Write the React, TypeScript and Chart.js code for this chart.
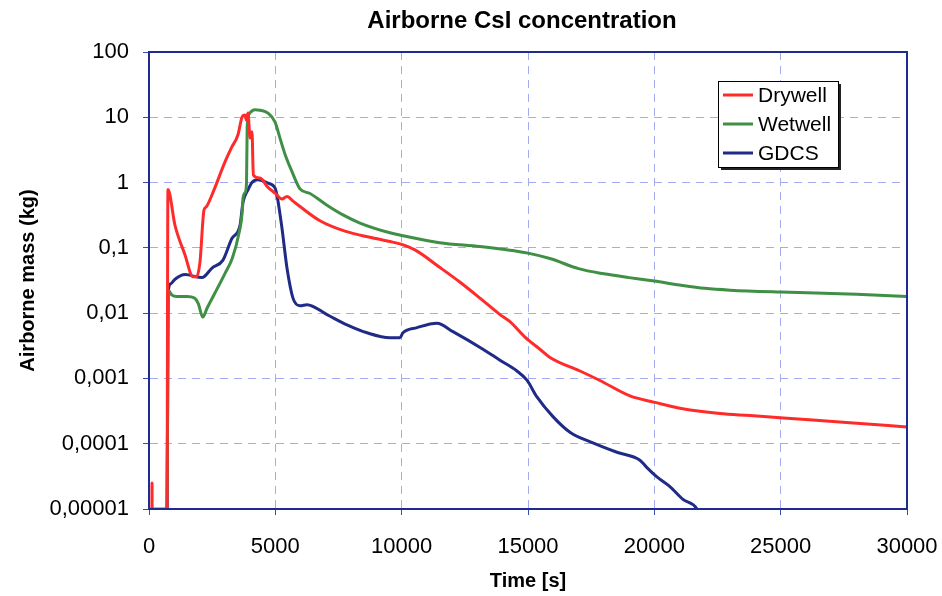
import React, { useEffect, useRef } from "react";
import { Chart, registerables } from "chart.js";

Chart.register(...registerables);

// Time axis in seconds, airborne CsI mass in kg
const drywellTime = [0, 110, 120, 130, 700, 750, 1030, 1425, 1740, 1880, 2018, 2176, 2255, 2493, 3008, 3260, 3522, 3680, 3799, 3850, 3918, 4000, 4076, 4130, 4393, 4700, 4986, 5263, 5460, 5700, 5975, 6767, 7756, 8746, 9537, 9933, 10526, 11516, 12300, 13099, 13890, 14286, 14879, 15473, 15869, 17056, 17847, 19035, 20024, 21013, 22596, 23783, 24971, 27741, 30000];
const drywellMass = [1e-7, 1e-7, 2.5e-5, 1e-7, 1e-7, 0.78, 0.22, 0.078, 0.036, 0.036, 0.061, 0.38, 0.42, 0.65, 2.07, 3.4, 5.4, 10, 10.8, 9.1, 11.6, 4.8, 6, 1.3, 1.17, 0.85, 0.69, 0.56, 0.61, 0.52, 0.43, 0.26, 0.18, 0.145, 0.125, 0.115, 0.093, 0.05, 0.03, 0.017, 0.0095, 0.0074, 0.0043, 0.0028, 0.0021, 0.0013, 0.00093, 0.00054, 0.00043, 0.00035, 0.00029, 0.00027, 0.00025, 0.00021, 0.00018];

const wetwellTime = [0, 700, 780, 900, 1100, 1500, 1800, 1950, 2130, 2300, 2600, 3000, 3300, 3550, 3700, 3720, 3800, 3860, 3885, 3950, 4076, 4195, 4400, 4709, 4986, 5184, 5400, 5650, 5975, 6371, 7044, 7677, 8350, 9537, 10000, 11500, 13099, 14000, 15000, 15900, 17000, 18000, 19000, 20000, 21000, 22000, 23000, 25000, 28000, 30000];
const wetwellMass = [1e-5, 1e-5, 0.022, 0.019, 0.018, 0.018, 0.017, 0.014, 0.0087, 0.012, 0.02, 0.04, 0.07, 0.16, 0.4, 0.58, 0.7, 1.0, 7, 11, 12.5, 13, 12.8, 11.6, 8.5, 4.8, 2.6, 1.5, 0.8, 0.68, 0.45, 0.32, 0.24, 0.17, 0.155, 0.12, 0.105, 0.095, 0.083, 0.068, 0.048, 0.04, 0.035, 0.031, 0.027, 0.024, 0.0225, 0.021, 0.0195, 0.018];

const gdcsTime = [0, 700, 752, 850, 1029, 1425, 2097, 2493, 2928, 3285, 3601, 3720, 3918, 4076, 4313, 4709, 4986, 5065, 5263, 5461, 5698, 5975, 6252, 7044, 7835, 8627, 9537, 9933, 10051, 10606, 11397, 12030, 13217, 13890, 14563, 14958, 15354, 15988, 16660, 17570, 18520, 19430, 19707, 20103, 20617, 21132, 21686, 22200];
const gdcsMass = [1e-7, 1e-7, 0.019, 0.028, 0.033, 0.039, 0.035, 0.049, 0.065, 0.14, 0.22, 0.5, 0.77, 1.0, 1.1, 0.98, 0.83, 0.64, 0.2, 0.049, 0.017, 0.013, 0.0135, 0.0095, 0.0066, 0.005, 0.0042, 0.0042, 0.005, 0.006, 0.007, 0.0052, 0.0028, 0.0019, 0.0013, 0.00094, 0.00052, 0.00026, 0.00015, 0.000103, 7.4e-5, 5.6e-5, 4.3e-5, 3.1e-5, 2.2e-5, 1.4e-5, 1e-5, 3e-6];

const seriesNames = ["Drywell", "Wetwell", "GDCS"];
const seriesColors = ["#ff2b2b", "#3f8f45", "#1f2b86"];

const xTickValues = [0, 5000, 10000, 15000, 20000, 25000, 30000];
const yTickValues = [1e-5, 1e-4, 1e-3, 1e-2, 1e-1, 1, 10, 100];
const yTickLabels = ["0,00001", "0,0001", "0,001", "0,01", "0,1", "1", "10", "100"];

const titleText = "Airborne CsI concentration";
const xTitle = "Time [s]";
const yTitle = "Airborne mass (kg)";

const FONT = "'Liberation Sans', Arial, sans-serif";

const toPoints = (t: number[], v: number[]) => t.map((x, i) => ({ x, y: v[i] }));

// Title centred over the plot area, plot frame and the boxed legend
const decorPlugin = {
  id: "decor",
  afterDraw(chart: any) {
    const { ctx, chartArea } = chart;
    const { left, right, top, bottom } = chartArea;
    ctx.save();
    // frame round the plot area
    ctx.strokeStyle = "#1f2b8f";
    ctx.lineWidth = 2;
    ctx.strokeRect(left, top, right - left, bottom - top);

    // title
    ctx.fillStyle = "#000";
    ctx.font = `bold 24px ${FONT}`;
    ctx.textAlign = "center";
    ctx.textBaseline = "alphabetic";
    ctx.fillText(titleText, (left + right) / 2 - 6, 28);

    // legend box with drop shadow
    const bx = right - 189;
    const by = top + 29;
    const bw = 120;
    const bh = 86;
    ctx.fillStyle = "#222";
    ctx.fillRect(bx + 3, by + 3, bw, bh);
    ctx.fillStyle = "#fff";
    ctx.fillRect(bx, by, bw, bh);
    ctx.strokeStyle = "#000";
    ctx.lineWidth = 1;
    ctx.strokeRect(bx + 0.5, by + 0.5, bw, bh);
    ctx.font = `21px ${FONT}`;
    ctx.textAlign = "left";
    ctx.textBaseline = "middle";
    seriesNames.forEach((name, i) => {
      const y = by + 14 + i * 29;
      ctx.strokeStyle = seriesColors[i];
      ctx.lineWidth = 3;
      ctx.beginPath();
      ctx.moveTo(bx + 5, y);
      ctx.lineTo(bx + 35, y);
      ctx.stroke();
      ctx.fillStyle = "#000";
      ctx.fillText(name, bx + 40, y + 1);
    });
    ctx.restore();
  },
};

export default function App() {
  const canvasRef = useRef<HTMLCanvasElement | null>(null);

  useEffect(() => {
    if (!canvasRef.current) return;
    const datasets = [
      [drywellTime, drywellMass],
      [wetwellTime, wetwellMass],
      [gdcsTime, gdcsMass],
    ].map(([t, v], i) => ({
      label: seriesNames[i],
      data: toPoints(t, v),
      borderColor: seriesColors[i],
      backgroundColor: seriesColors[i],
      borderWidth: 3,
      pointRadius: 0,
      cubicInterpolationMode: "monotone",
      fill: false,
    }));

    const chart = new Chart(canvasRef.current, {
      type: "line",
      data: { datasets },
      plugins: [decorPlugin],
      options: {
        animation: false,
        responsive: false,
        layout: { padding: { top: 52, right: 35, left: 0, bottom: 0 } },
        plugins: {
          legend: { display: false },
          title: { display: false },
          tooltip: { enabled: false },
        },
        scales: {
          x: {
            type: "linear",
            min: 0,
            max: 30000,
            afterBuildTicks: (s: any) => {
              s.ticks = xTickValues.map((value) => ({ value }));
            },
            afterFit: (s: any) => {
              s.height = 87;
              s.paddingLeft = 0;
              s.paddingRight = 0;
            },
            ticks: {
              color: "#000",
              font: { family: FONT, size: 22 },
              padding: 19,
              maxRotation: 0,
              callback: (v: any) => String(v),
            },
            grid: {
              color: "#a3abf2",
              lineWidth: 1,
              tickColor: "#3a4ab8",
              tickLength: 6,
              tickBorderDash: [],
            },
            border: { display: true, color: "#1f2b8f", width: 2, dash: [8, 6] },
            title: {
              display: true,
              text: xTitle,
              color: "#000",
              font: { family: FONT, size: 20, weight: "bold" },
              padding: { top: 0, bottom: 3 },
            },
          },
          y: {
            type: "logarithmic",
            min: 1e-5,
            max: 100,
            afterBuildTicks: (s: any) => {
              s.ticks = yTickValues.map((value) => ({ value }));
            },
            afterFit: (s: any) => {
              s.width = 149;
              s.paddingTop = 0;
              s.paddingBottom = 0;
            },
            ticks: {
              color: "#000",
              font: { family: FONT, size: 22 },
              padding: 14,
              callback: (v: any) => {
                const i = yTickValues.findIndex((t) => Math.abs(Math.log10(t) - Math.log10(Number(v))) < 1e-6);
                return i >= 0 ? yTickLabels[i] : "";
              },
            },
            grid: {
              color: "#a3abf2",
              lineWidth: 1,
              tickColor: "#3a4ab8",
              tickLength: 6,
              tickBorderDash: [],
            },
            border: { display: true, color: "#1f2b8f", width: 2, dash: [8, 6] },
            title: {
              display: true,
              text: yTitle,
              color: "#000",
              font: { family: FONT, size: 20, weight: "bold" },
              padding: { top: 16, bottom: 0 },
            },
          },
        },
      } as any,
    });
    return () => chart.destroy();
  }, []);

  return (
    <div style={{ position: "absolute", left: 0, top: 0, width: 942, height: 596, background: "#fff" }}>
      <canvas ref={canvasRef} width={942} height={596} />
    </div>
  );
}
